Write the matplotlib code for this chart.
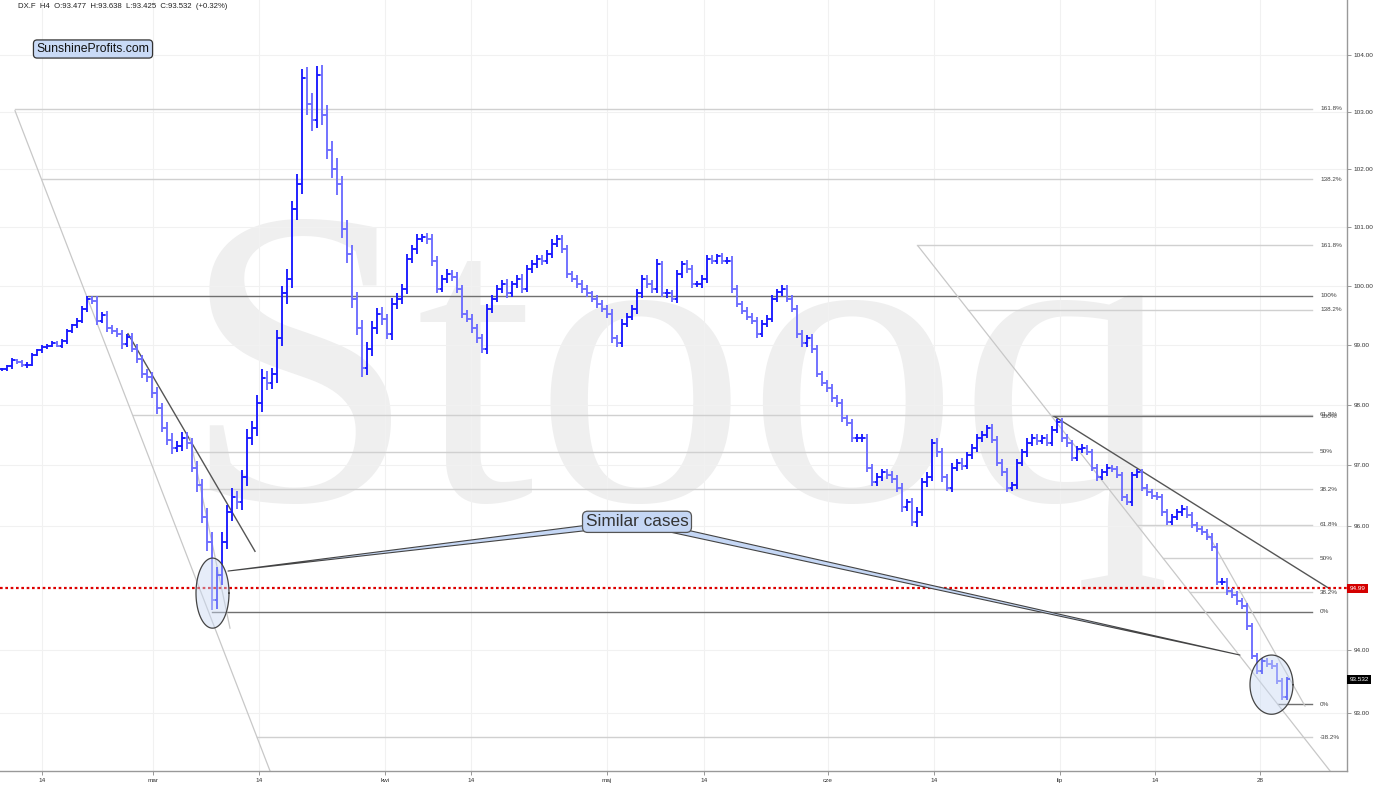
"""
DX.F H4 chart with Fibonacci levels and "Similar cases" callout
"""

import numpy as np
import matplotlib.pyplot as plt
from matplotlib.collections import LineCollection
from matplotlib.patches import FancyArrowPatch
from matplotlib.ticker import FixedLocator, NullLocator, FuncFormatter

plt.rcParams['font.family'] = ['Liberation Sans', 'DejaVu Sans']

W, H = 1386, 790

# closes, one bar per half session
closes = [
    98.59, 98.64, 98.74, 98.71, 98.66, 98.67, 98.84, 98.91, 98.96, 98.99,
    99.03, 98.99, 99.06, 99.23, 99.33, 99.41, 99.61, 99.78,
    99.75, 99.41, 99.51, 99.28, 99.24, 99.18, 99.01, 99.14, 98.94, 98.77,
    98.51, 98.47, 98.19, 97.95, 97.62, 97.42, 97.29, 97.32, 97.45, 97.37,
    96.96, 96.67,
    96.15, 95.74, 94.80, 95.20, 95.74, 96.23, 96.47, 96.39, 96.80, 97.45,
    97.62, 98.03, 98.44, 98.36, 98.52, 99.11, 99.87, 100.12, 101.31, 101.74,
    103.60, 103.13, 102.86, 103.65, 102.95, 102.34, 102.00, 101.74, 100.97, 100.55,
    99.78, 99.28, 98.61, 98.94, 99.28, 99.53, 99.44, 99.19, 99.70, 99.78,
    99.95, 100.46, 100.63, 100.80, 100.83, 100.80, 100.43, 99.95, 100.12, 100.20,
    100.15, 99.95, 99.53, 99.44, 99.28, 99.11, 98.94, 99.61, 99.78, 99.95,
    100.03, 99.87, 100.03, 100.12, 99.95, 100.29, 100.37, 100.46, 100.43, 100.55,
    100.72, 100.80, 100.63, 100.20, 100.12, 100.03, 99.95, 99.87, 99.78, 99.70,
    99.61, 99.53, 99.11, 99.03, 99.36, 99.48, 99.61, 99.87, 100.12, 100.03,
    99.95, 100.37, 99.87, 99.87, 99.78, 100.20, 100.37, 100.29, 100.03, 100.03,
    100.12, 100.46, 100.43, 100.50, 100.43, 100.43, 99.95, 99.70, 99.58, 99.48,
    99.41, 99.19, 99.36, 99.44, 99.78, 99.90, 99.95, 99.78, 99.61, 99.19,
    99.03, 99.11, 98.94, 98.52, 98.36, 98.28, 98.11, 98.03, 97.78, 97.70,
    97.45, 97.45, 97.45, 96.96, 96.72, 96.80, 96.88, 96.83, 96.77, 96.63,
    96.31, 96.39, 96.07, 96.23, 96.72, 96.80, 97.37, 97.21, 96.80, 96.63,
    96.96, 97.04, 96.99, 97.16, 97.29, 97.45, 97.50, 97.62, 97.42, 97.04,
    96.88, 96.63, 96.67, 97.04, 97.21, 97.37, 97.45, 97.40, 97.45, 97.37,
    97.58, 97.72, 97.45, 97.37, 97.12, 97.26, 97.29, 97.21, 96.96, 96.80,
    96.88, 96.96, 96.93, 96.83, 96.47, 96.39, 96.83, 96.88, 96.63, 96.55,
    96.50, 96.47, 96.23, 96.07, 96.15, 96.23, 96.28, 96.18, 96.02, 95.95,
    95.90, 95.82, 95.66, 95.10, 95.10, 94.94, 94.89, 94.78, 94.70, 94.38,
    93.91, 93.67, 93.83, 93.78, 93.75, 93.51, 93.25, 93.532,
]

# extra range of each bar beyond its open/close, in price units
wicks = [
    0.03, 0.03, 0.04, 0.03, 0.03, 0.04, 0.03, 0.03, 0.04, 0.03,
    0.03, 0.03, 0.04, 0.04, 0.03, 0.05, 0.04, 0.05,
    0.05, 0.08, 0.04, 0.06, 0.05, 0.05, 0.07, 0.05, 0.06, 0.08,
    0.06, 0.09, 0.07, 0.10, 0.08, 0.09, 0.11, 0.08, 0.09, 0.10,
    0.08, 0.11,
    0.10, 0.15, 0.16, 0.14, 0.16, 0.12, 0.15, 0.11, 0.12, 0.15,
    0.11, 0.14, 0.15, 0.12, 0.10, 0.15, 0.13, 0.17, 0.15, 0.18,
    0.16, 0.18, 0.20, 0.15, 0.18, 0.17, 0.15, 0.19, 0.15, 0.16,
    0.15, 0.12, 0.14, 0.11, 0.12, 0.10, 0.11, 0.09, 0.10, 0.09,
    0.08, 0.09, 0.07, 0.08, 0.06, 0.08, 0.09, 0.07, 0.06, 0.08,
    0.07, 0.08, 0.07, 0.06, 0.08, 0.07, 0.08, 0.09, 0.07, 0.06,
    0.07, 0.08, 0.06, 0.07, 0.08, 0.06, 0.07, 0.06, 0.07, 0.06,
    0.08, 0.06, 0.07, 0.07, 0.06, 0.06, 0.07, 0.06, 0.05, 0.07,
    0.06, 0.07, 0.08, 0.06, 0.07, 0.06, 0.06, 0.08, 0.07, 0.06,
    0.07, 0.08, 0.06, 0.07, 0.06, 0.07, 0.06, 0.07, 0.06, 0.05,
    0.06, 0.07, 0.06, 0.05, 0.06, 0.06, 0.07, 0.06, 0.05, 0.06,
    0.06, 0.07, 0.06, 0.06, 0.06, 0.05, 0.07, 0.06, 0.06, 0.07,
    0.06, 0.06, 0.07, 0.06, 0.05, 0.06, 0.07, 0.06, 0.06, 0.05,
    0.07, 0.06, 0.06, 0.07, 0.06, 0.07, 0.06, 0.06, 0.07, 0.07,
    0.08, 0.06, 0.07, 0.08, 0.07, 0.08, 0.06, 0.07, 0.07, 0.06,
    0.07, 0.06, 0.07, 0.06, 0.06, 0.07, 0.06, 0.05, 0.06, 0.06,
    0.06, 0.07, 0.06, 0.06, 0.05, 0.07, 0.06, 0.06, 0.05, 0.06,
    0.06, 0.05, 0.06, 0.07, 0.05, 0.06, 0.06, 0.05, 0.06, 0.06,
    0.05, 0.06, 0.05, 0.05, 0.06, 0.05, 0.06, 0.05, 0.05, 0.06,
    0.05, 0.05, 0.06, 0.05, 0.05, 0.05, 0.06, 0.05, 0.05, 0.05,
    0.05, 0.05, 0.06, 0.06, 0.05, 0.05, 0.05, 0.06, 0.05, 0.06,
    0.06, 0.05, 0.05, 0.05, 0.06, 0.05, 0.05, 0.04,
]

date_pos = [8, 30.2, 51.4, 76.6, 93.8, 121, 140.4, 165.2, 186.4, 211.6, 230.6, 251.6]
date_lab = ['14', 'mar', '14', 'kwi', '14', 'maj', '14', 'cze', '14', 'lip', '14', '28']
price_ticks = [93, 94, 96, 97, 98, 99, 100, 101, 102, 103, 104]

# Fibonacci set A (Feb-Mar swing): levels, start of each line, diagonal
fibA_hi, fibA_lo = 99.83, 94.61
fibA_ratios = [1.618, 1.382, 1.0, 0.618, 0.5, 0.382, 0.0, -0.382]
fibA_start = [2.6, 8.0, 17.2, 26.2, 38.0, 39.6, 42.0, 51.0]
fibA_diag = [(2.6, 103.02), (53.6, 92.09)]
# Fibonacci set B (Jul swing): levels start on its diagonal
fibB_hi, fibB_lo = 97.81, 93.14
fibB_ratios = [1.618, 1.382, 1.0, 0.618, 0.5, 0.382, 0.0]
fibB_diag = [(183.2, 100.68), (265.6, 92.09)]
fib_end, fib_label_x = 262, 263.6

trend_dark = [[(25.2, 99.19), (50.6, 95.59)], [(210.6, 97.80), (265.6, 94.98)]]
trend_light = [[(37.6, 97.45), (45.6, 94.35)], [(241.2, 95.87), (260.6, 93.11)]]

support = 94.99
last_close = 93.532

callout_xy = (127, 96.07)
callout_targets = [(45.2, 95.27), (247.6, 93.92)]
# ellipses: x from, x to, price low, price high
circles = [(38.8, 45.4, 94.35, 95.48), (249.6, 258.2, 92.98, 93.92)]

fig = plt.figure(figsize=(W / 100, H / 100), dpi=100)
ax = fig.add_axes([0, 19 / H, 1347 / W, 771 / H])
ax.set_yscale('log')
ax.set_xlim(-0.4, 269)
ax.set_ylim(92.088, 104.976)

# watermark
ax.text(181 / W, 1 - 500 / H, 'Stooq', transform=fig.transFigure, fontsize=306,
        family='Liberation Serif', color='#efefef', ha='left', va='baseline', zorder=0.2)

# price bars (open = previous close)
x = np.arange(len(closes))
opens = [closes[0]] + closes[:-1]
up_segs, dn_segs = [], []
for i, o, c, w in zip(x, opens, closes, wicks):
    segs = up_segs if c >= o else dn_segs
    segs.append([(i, min(o, c) - w), (i, max(o, c) + w)])
    segs.append([(i - 0.5, o), (i, o)])
    segs.append([(i, c), (i + 0.5, c)])
ax.add_collection(LineCollection(dn_segs, colors='#6c6cff', linewidths=1.35, zorder=4))
ax.add_collection(LineCollection(up_segs, colors='#1a1aff', linewidths=1.35, zorder=4))


def start_on(diag, p):
    (x0, p0), (x1, p1) = diag
    t = (np.log(p0) - np.log(p)) / (np.log(p0) - np.log(p1))
    return x0 + t * (x1 - x0)


def fib_label(r):
    s = f'{r * 100:.1f}'
    if s.endswith('.0'):
        s = s[:-2]
    return s + '%'


def fib_set(hi, lo, ratios, starts):
    for r, xs in zip(ratios, starts):
        p = lo + r * (hi - lo)
        dark = r in (0.0, 1.0)
        ax.plot([xs, fib_end], [p, p], color='#707070' if dark else '#d0d0d0',
                lw=1.0, zorder=2)
        ax.text(fib_label_x, p, fib_label(r), fontsize=4.6, color='#444444',
                ha='left', va='center', zorder=5)


fib_set(fibA_hi, fibA_lo, fibA_ratios, fibA_start)
fibB_start = [start_on(fibB_diag, fibB_lo + r * (fibB_hi - fibB_lo)) for r in fibB_ratios]
fib_set(fibB_hi, fibB_lo, fibB_ratios, fibB_start)

for diag in [fibA_diag, fibB_diag]:
    ax.plot([diag[0][0], diag[1][0]], [diag[0][1], diag[1][1]], color='#c8c8c8', lw=0.9, zorder=2)
for (a, b) in trend_dark:
    ax.plot([a[0], b[0]], [a[1], b[1]], color='#555555', lw=1.0, zorder=3)
for (a, b) in trend_light:
    ax.plot([a[0], b[0]], [a[1], b[1]], color='#c8c8c8', lw=0.9, zorder=3)

# support line and price labels
ax.axhline(support, color='#dd0000', lw=1.6, ls=(0, (1.2, 1.2)), zorder=3)
ax.text(1.002, support, f'{support:.2f}', transform=ax.get_yaxis_transform(),
        fontsize=4.6, color='white', ha='left', va='center', clip_on=False,
        bbox=dict(boxstyle='square,pad=0.35', fc='#d40000', ec='none'))
ax.text(1.002, last_close, f'{last_close:.3f}', transform=ax.get_yaxis_transform(),
        fontsize=4.6, color='white', ha='left', va='center', clip_on=False,
        bbox=dict(boxstyle='square,pad=0.35', fc='black', ec='none'))

# ellipses around the similar cases
t = np.linspace(0, 2 * np.pi, 120)
for x0, x1, plo, phi in circles:
    ex = (x0 + x1) / 2 + (x1 - x0) / 2 * np.cos(t)
    ey = np.exp((np.log(plo) + np.log(phi)) / 2 + (np.log(phi) - np.log(plo)) / 2 * np.sin(t))
    ax.fill(ex, ey, fc='#c9d9f3', alpha=0.45, zorder=5)
    ax.plot(ex, ey, color='#444444', lw=0.9, zorder=5)

# callout: wedges first, then the box on top
for target in callout_targets:
    ax.add_patch(FancyArrowPatch(callout_xy, target,
                                 arrowstyle='wedge,tail_width=0.35,shrink_factor=0.5',
                                 mutation_scale=12.4, fc='#c5d7f5', ec='#444444', lw=0.8,
                                 shrinkA=0, shrinkB=0, zorder=5.5))
ax.text(callout_xy[0], callout_xy[1], 'Similar cases', fontsize=12.4, color='#333333',
        ha='center', va='center', zorder=6,
        bbox=dict(boxstyle='round,pad=0.18,rounding_size=0.3',
                  fc='#c5d7f5', ec='#555555', lw=0.9))

# axes styling
ax.yaxis.set_major_locator(FixedLocator(price_ticks))
ax.yaxis.set_minor_locator(NullLocator())
ax.yaxis.set_major_formatter(FuncFormatter(lambda v, _: f'{v:.2f}'))
ax.yaxis.set_minor_formatter(FuncFormatter(lambda v, _: ''))
ax.yaxis.tick_right()
ax.set_xticks(date_pos)
ax.set_xticklabels(date_lab)
ax.tick_params(axis='both', length=3, width=0.6, color='#888888', labelsize=4.6,
               labelcolor='#333333', pad=2)
ax.grid(True, color='#f1f1f1', lw=0.8)
ax.set_axisbelow(True)
for side in ['left', 'top']:
    ax.spines[side].set_visible(False)
for side in ['right', 'bottom']:
    ax.spines[side].set_color('#999999')
    ax.spines[side].set_linewidth(1.0)

fig.text(18 / W, 1 - 7 / H, 'DX.F  H4  O:93.477  H:93.638  L:93.425  C:93.532  (+0.32%)',
         fontsize=5.6, color='#222222', ha='left', va='center')
fig.text(93 / W, 1 - 49 / H, 'SunshineProfits.com', fontsize=8.8, color='#111111',
         ha='center', va='center',
         bbox=dict(boxstyle='round,pad=0.25,rounding_size=0.3', fc='#c9daf6', ec='#333333', lw=0.9))

fig.savefig('out.png', dpi=100)
plt.close(fig)
